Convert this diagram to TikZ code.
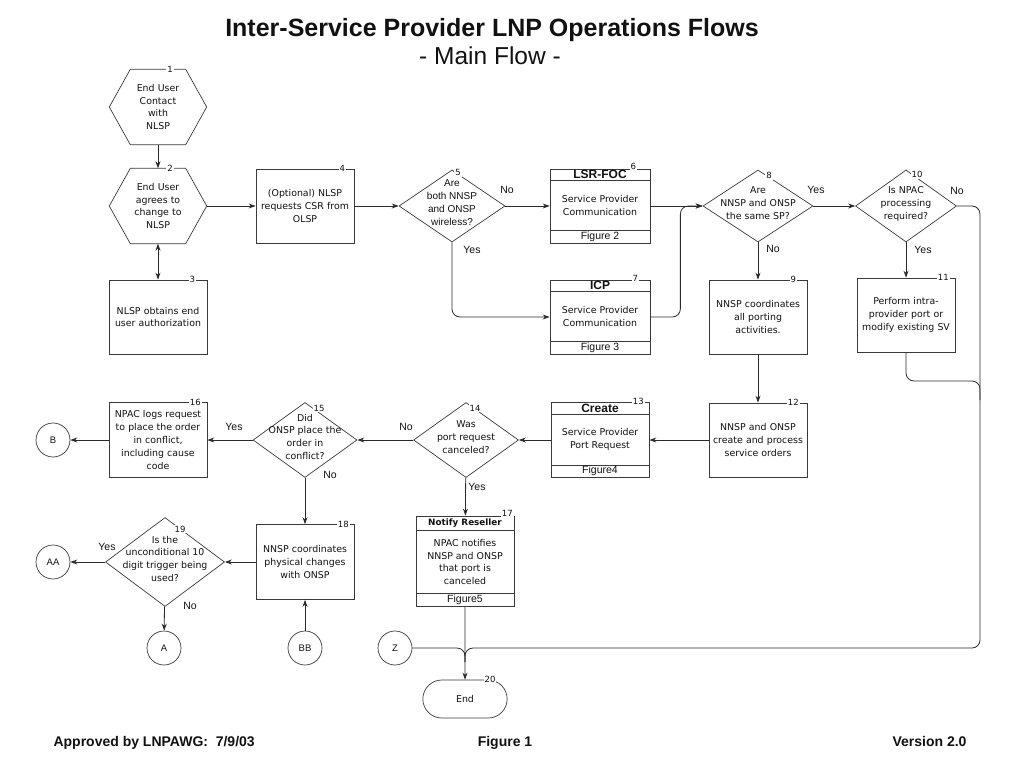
\documentclass[tikz,border=0pt]{standalone}
\usepackage{fontspec}
\usepackage{xcolor}
\usepackage{tikz}
\usetikzlibrary{positioning, arrows.meta, shapes.geometric, shapes.misc, shapes.multipart}
\setmainfont{DejaVu Sans}
\newfontfamily\hfont{Liberation Sans}
\definecolor{fg}{HTML}{111111}
\definecolor{frameLine}{HTML}{3A3A3A}
\definecolor{wireLine}{HTML}{2A2A2A}

\newcommand{\bodyfont}{\fontsize{9.4}{12.8}\selectfont}
\newcommand{\dtxt}[1]{\makebox[0pt]{\smash{\begin{tabular}{@{}c@{}}#1\end{tabular}}}}
\newcommand{\sppart}[3]{\parbox[c][#1][c]{#2}{\centering #3}}
\newcommand{\hexframe}[1]{\draw[boxline] (#1.west) -- ([xshift=21pt]#1.north west)
  -- ([xshift=-21pt]#1.north east) -- (#1.east) -- ([xshift=-21pt]#1.south east)
  -- ([xshift=21pt]#1.south west) -- cycle;}

\tikzset{
  >={Stealth[length=7pt, width=5pt]},
  boxline/.style={draw=frameLine, line width=0.7pt},
  procbox/.style={boxline, rectangle, minimum width=98pt, minimum height=74pt,
    text width=96pt, inner xsep=1pt, align=center, font=\bodyfont},
  hexnode/.style={rectangle, minimum width=97pt, minimum height=75pt,
    text width=80pt, align=center, inner sep=0pt, font=\bodyfont},
  decision/.style={boxline, diamond, inner sep=0pt, font=\bodyfont},
  subproc/.style={boxline, rectangle split, rectangle split parts=3,
    inner ysep=0pt, inner xsep=3pt, font=\bodyfont},
  conn/.style={boxline, circle, minimum size=34pt, inner sep=0pt,
    font=\hfont\fontsize{9.5}{10}\selectfont},
  stepnum/.style={fill=white, inner sep=1pt, font=\fontsize{8.5}{9}\selectfont},
  flowlbl/.style={inner sep=0pt, font=\hfont\fontsize{10.5}{11}\selectfont},
  footlbl/.style={anchor=base, font=\hfont\bfseries\fontsize{14}{16}\selectfont},
  wire/.style={draw=wireLine, line width=0.8pt, rounded corners=8pt},
  arr/.style={wire, ->},
}

\begin{document}
\begin{tikzpicture}[x=1pt, y=-1pt, text=fg]
  \useasboundingbox (0,0) rectangle (1024,768);

  % titles
  \node[anchor=base, font=\hfont\bfseries\fontsize{25}{28}\selectfont] (title)
    at (492,37) {Inter-Service Provider LNP Operations Flows};
  \node[anchor=base, font=\hfont\fontsize{24.5}{27}\selectfont] (subtitle)
    at (490,64) {- Main Flow -};

  % top row
  \node[hexnode] (h1) at (158,107) {End User\\Contact\\with\\NLSP};
  \hexframe{h1}
  \node[stepnum] (n1) at ([xshift=12pt]h1.north) {1};

  \node[hexnode] (h2) at (158,206) {End User\\agrees to\\change to\\NLSP};
  \hexframe{h2}
  \node[stepnum] (n2) at ([xshift=12pt]h2.north) {2};

  \node[procbox] (p3) at (158,317) {NLSP obtains end\\user authorization};
  \node[stepnum] (n3) at ([xshift=-15pt]p3.north east) {3};

  \node[procbox] (p4) at (305,206) {(Optional) NLSP\\requests CSR from\\OLSP};
  \node[stepnum] (n4) at ([xshift=-12pt]p4.north east) {4};

  \node[decision, minimum width=106pt, minimum height=72pt,
        font=\hfont\fontsize{10}{12.7}\selectfont] (d5) at (452,206)
    {\dtxt{Are\\both NNSP\\and ONSP\\wireless?}};
  \node[stepnum] (n5) at ([xshift=6pt, yshift=-3pt]d5.north) {5};

  \node[subproc] (b6) at (600,206)
    {\sppart{11pt}{94pt}{\hfont\bfseries\fontsize{12}{12}\selectfont LSR-FOC}%
     \nodepart{two}\sppart{49pt}{94pt}{Service Provider\\Communication}%
     \nodepart{three}\sppart{12pt}{94pt}{\hfont\fontsize{10.5}{11}\selectfont Figure 2}};
  \node[stepnum] (n6) at ([xshift=-17pt, yshift=2pt]b6.north east) {6};

  \node[subproc] (b7) at (600,317)
    {\sppart{11pt}{94pt}{\hfont\bfseries\fontsize{12}{12}\selectfont ICP}%
     \nodepart{two}\sppart{49pt}{94pt}{Service Provider\\Communication}%
     \nodepart{three}\sppart{12pt}{94pt}{\hfont\fontsize{10.5}{11}\selectfont Figure 3}};
  \node[stepnum] (n7) at ([xshift=-15pt, yshift=1pt]b7.north east) {7};

  \node[decision, minimum width=110pt, minimum height=72pt] (d8) at (758,206)
    {\dtxt{Are\\NNSP and ONSP\\the same SP?}};
  \node[stepnum] (n8) at ([xshift=11pt, yshift=-6pt]d8.north) {8};

  \node[procbox] (p9) at (758,317) {NNSP coordinates\\all porting\\activities.};
  \node[stepnum] (n9) at ([xshift=-14pt]p9.north east) {9};

  \node[decision, minimum width=101pt, minimum height=72pt] (d10) at (906,206)
    {\dtxt{Is NPAC\\processing\\required?}};
  \node[stepnum] (n10) at ([xshift=11pt, yshift=-5pt]d10.north) {10};

  \node[procbox] (p11) at (906,315) {Perform intra-\\provider port or\\modify existing SV};
  \node[stepnum] (n11) at ([xshift=-12pt]p11.north east) {11};

  % middle row
  \node[procbox] (p12) at (758,440) {NNSP and ONSP\\create and process\\service orders};
  \node[stepnum] (n12) at ([xshift=-14pt]p12.north east) {12};

  \node[subproc] (b13) at (600,440)
    {\sppart{11pt}{92pt}{\hfont\bfseries\fontsize{12}{12}\selectfont Create}%
     \nodepart{two}\sppart{50pt}{92pt}{Service Provider\\Port Request}%
     \nodepart{three}\sppart{12pt}{92pt}{\hfont\fontsize{10.5}{11}\selectfont Figure4}};
  \node[stepnum] (n13) at ([xshift=-11pt, yshift=1pt]b13.north east) {13};

  \node[decision, minimum width=105pt, minimum height=75pt] (d14) at (466,440)
    {\dtxt{Was\\port request\\canceled?}};
  \node[stepnum] (n14) at ([xshift=9pt, yshift=-6pt]d14.north) {14};

  \node[decision, minimum width=104pt, minimum height=75pt] (d15) at (305,440)
    {\dtxt{Did\\ONSP place the\\order in\\conflict?}};
  \node[stepnum] (n15) at ([xshift=14pt, yshift=-6pt]d15.north) {15};

  \node[procbox, minimum height=75pt] (p16) at (158,440)
    {NPAC logs request\\to place the order\\in conflict,\\including cause\\code};
  \node[stepnum] (n16) at ([xshift=-12pt]p16.north east) {16};

  \node[conn] (cB) at (53,440) {B};

  % bottom row
  \node[procbox, minimum height=75pt] (p18) at (305,562)
    {NNSP coordinates\\physical changes\\with ONSP};
  \node[stepnum] (n18) at ([xshift=-11pt]p18.north east) {18};

  \node[decision, minimum width=119pt, minimum height=89pt] (d19) at (165,562)
    {\dtxt{Is the\\unconditional 10\\digit trigger being\\used?}};
  \node[stepnum] (n19) at ([xshift=15pt, yshift=-12pt]d19.north) {19};

  \node[conn] (cAA) at (53,562) {AA};
  \node[conn] (cA) at (164,648) {A};
  \node[conn] (cBB) at (305,648) {BB};
  \node[conn] (cZ) at (395,648) {Z};

  \node[subproc] (b17) at (465,561)
    {\sppart{14pt}{92pt}{\bfseries\fontsize{8.8}{10}\selectfont Notify Reseller}%
     \nodepart{two}\sppart{62pt}{92pt}{NPAC notifies\\NNSP and ONSP\\that port is\\canceled}%
     \nodepart{three}\sppart{12pt}{92pt}{\hfont\fontsize{10.5}{11}\selectfont Figure5}};
  \node[stepnum] (n17) at ([xshift=-7pt, yshift=2pt]b17.north east) {17};

  \node[boxline, rounded rectangle, minimum width=91pt, minimum height=38pt,
        font=\bodyfont] (en) at (465,699) {End};
  \node[stepnum] (n20) at ([xshift=25pt]en.north) {20};

  % branch labels
  \node[flowlbl] (l5no) at (507,190) {No};
  \node[flowlbl] (l5yes) at (472,250) {Yes};
  \node[flowlbl] (l8yes) at (816,190) {Yes};
  \node[flowlbl] (l8no) at (773,249) {No};
  \node[flowlbl] (l10no) at (957,191) {No};
  \node[flowlbl] (l10yes) at (923,250) {Yes};
  \node[flowlbl] (l14no) at (406,427) {No};
  \node[flowlbl] (l14yes) at (477,487) {Yes};
  \node[flowlbl] (l15yes) at (234,427) {Yes};
  \node[flowlbl] (l15no) at (330,475) {No};
  \node[flowlbl] (l19yes) at (107,547) {Yes};
  \node[flowlbl] (l19no) at (190,606) {No};

  % connectors
  \draw[arr] (h1) -- (h2);
  \draw[wire, <->] (h2) -- (p3);
  \draw[arr] (h2) -- (p4);
  \draw[arr] (p4) -- (d5);
  \draw[arr] (d5) -- (b6);
  \draw[arr] (d5.south) |- (b7.west);
  \draw[arr] (b6) -- (d8);
  \draw[arr] (b7.east) -- ++(30,0) |- (d8.west);
  \draw[arr] (d8) -- (d10);
  \draw[arr] (d8) -- (p9);
  \draw[arr] (d10) -- (p11);
  \draw[arr] (p9) -- (p12);
  \draw[arr] (p12) -- (b13);
  \draw[arr] (b13) -- (d14);
  \draw[arr] (d14) -- (d15);
  \draw[arr] (d14) -- (b17);
  \draw[arr] (d15) -- (p16);
  \draw[arr] (d15) -- (p18);
  \draw[arr] (p16) -- (cB);
  \draw[arr] (p18) -- (d19);
  \draw[arr] (d19) -- (cAA);
  \draw[arr] (d19) -- (cA);
  \draw[arr] (cBB) -- (p18);
  \draw[arr] (b17) -- (en);

  \coordinate (rail) at (980,206);
  \coordinate (railjoin) at (980,400);
  \coordinate (merge) at (465,648);
  \draw[wire] (d10.east) -- (rail) |- (merge) -- ++(0,14);
  \draw[wire] (p11.south) |- ([yshift=19pt]railjoin) -- (railjoin);
  \draw[wire] (cZ.east) -- (merge) -- ++(0,14);

  % footer
  \node[footlbl, anchor=base west] (approved) at (50,746) {Approved by LNPAWG:\ \ 7/9/03};
  \node[footlbl] (figlbl) at (505,746) {Figure 1};
  \node[footlbl, anchor=base east] (version) at (970,746) {Version 2.0};
\end{tikzpicture}
\end{document}
